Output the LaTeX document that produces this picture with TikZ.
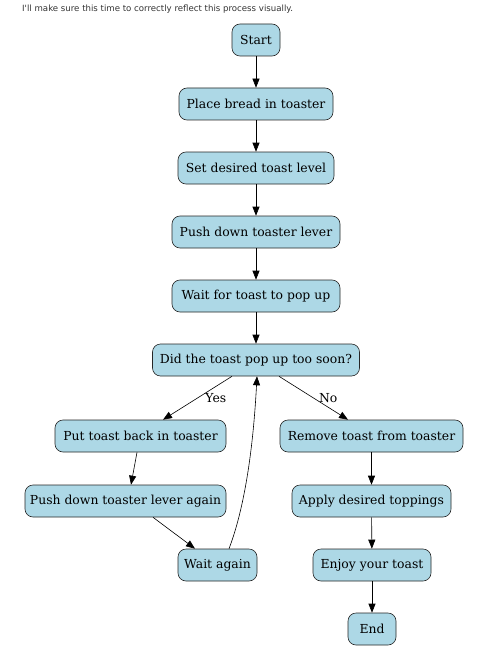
\documentclass[tikz,border=0pt]{standalone}
\usepackage{fontspec}
\newfontfamily\notefont{DejaVu Sans}
\newfontfamily\boxfont{DejaVu Serif}
\usetikzlibrary{arrows.meta}
\definecolor{boxfill}{HTML}{ADD8E6}
\definecolor{notegray}{HTML}{333333}
\tikzset{
  stepbox/.style={draw=black!85, fill=boxfill, rounded corners=8pt, minimum height=32pt,
    inner xsep=3pt, font=\boxfont\fontsize{12.4}{14}\selectfont, line width=0.6pt},
  flow/.style={draw=black, line width=0.6pt, -{Triangle[length=9pt,width=7pt]}},
  elabel/.style={font=\boxfont\fontsize{12.4}{14}\selectfont, inner sep=0pt}
}
\begin{document}
\begin{tikzpicture}[x=1pt,y=-1pt]
\useasboundingbox[fill=white] (0,0) rectangle (488,650);
\node[anchor=west, font=\notefont\fontsize{8.6}{10}\selectfont, text=notegray, inner sep=0pt] (note) at (22,9) {I'll make sure this time to correctly reflect this process visually.};
\node[stepbox, minimum width=48pt] (start) at (256,40) {Start};
\node[stepbox, minimum width=154pt] (place) at (256,104) {Place bread in toaster};
\node[stepbox, minimum width=156pt] (level) at (256,168) {Set desired toast level};
\node[stepbox, minimum width=168pt] (push) at (256,232) {Push down toaster lever};
\node[stepbox, minimum width=168pt] (wait) at (256,296) {Wait for toast to pop up};
\node[stepbox, minimum width=207pt] (soon) at (256,360) {Did the toast pop up too soon?};
\node[stepbox, minimum width=171pt] (back) at (140.5,436) {Put toast back in toaster};
\node[stepbox, minimum width=183pt] (remove) at (371.5,436) {Remove toast from toaster};
\node[stepbox, minimum width=201pt] (again) at (125.5,501) {Push down toaster lever again};
\node[stepbox, minimum width=159pt] (top) at (371.5,501) {Apply desired toppings};
\node[stepbox, minimum width=79pt] (waitagain) at (217.5,565) {Wait again};
\node[stepbox, minimum width=118pt] (enjoy) at (372,565) {Enjoy your toast};
\node[stepbox, minimum width=48pt] (end) at (372,629) {End};

\draw[flow] (start) -- (place);
\draw[flow] (place) -- (level);
\draw[flow] (level) -- (push);
\draw[flow] (push) -- (wait);
\draw[flow] (wait) -- (soon);
\draw[flow] (soon.south -| 232,0) -- node[elabel, pos=0.49, anchor=west, xshift=7pt] {Yes} (back.north -| 163,0);
\draw[flow] (soon.south -| 279,0) -- node[elabel, pos=0.49, anchor=west, xshift=6pt] {No} (remove.north -| 348,0);
\draw[flow] (back.south -| 137,0) -- (again.north -| 131,0);
\draw[flow] (again.south -| 153,0) -- (waitagain.north -| 195,0);
\draw[flow] (waitagain.north -| 229,0) .. controls (240,520) and (252,470) .. (soon.south -| 257,0);
\draw[flow] (remove) -- (top);
\draw[flow] (top) -- (enjoy);
\draw[flow] (enjoy) -- (end);
\end{tikzpicture}
\end{document}
